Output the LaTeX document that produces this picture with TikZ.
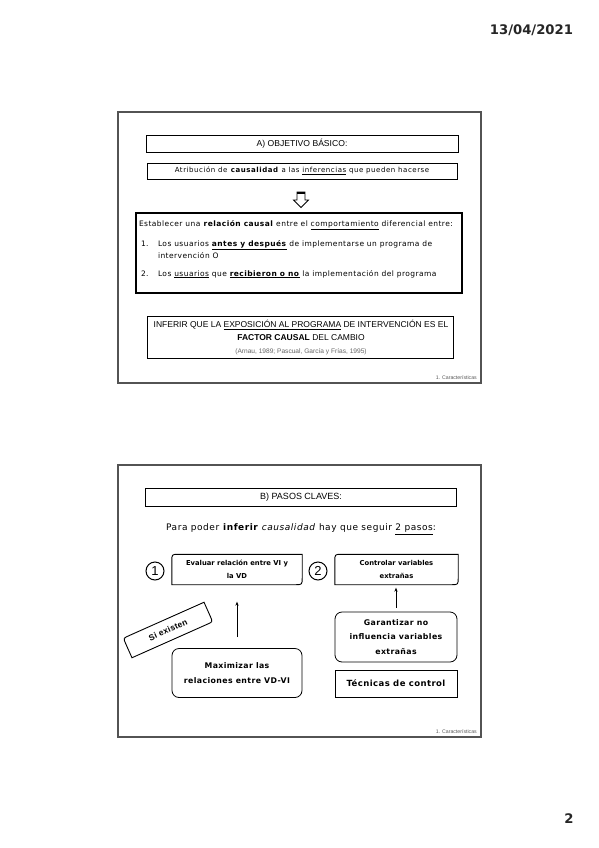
\documentclass[tikz,border=0pt]{standalone}
\usepackage{fontspec}
\setmainfont{Liberation Sans}
\newfontfamily\dvs{DejaVu Sans}
\newfontfamily\dvsA[LetterSpace=6]{DejaVu Sans}
\newfontfamily\dvsB[LetterSpace=8]{DejaVu Sans}
\newfontfamily\dvsC[LetterSpace=5]{DejaVu Sans}
\newfontfamily\libC[LetterSpace=3]{Liberation Sans}
\usetikzlibrary{calc,arrows.meta}
\newcommand\diagborder[2]{%
  \draw[line width=0.9pt] ($(#1.north west)!#2!(#1.north east)$) -- (#1.north east)
    -- ($(#1.south east)!#2!(#1.north east)$) .. controls (#1.south east) .. ($(#1.south east)!#2!(#1.south west)$)
    -- (#1.south west) -- ($(#1.north west)!#2!(#1.south west)$) .. controls (#1.north west) .. ($(#1.north west)!#2!(#1.north east)$) -- cycle;}
\begin{document}
\begin{tikzpicture}[x=1pt,y=-1pt,
  slideframe/.style={draw=gray!65!black, line width=1.4pt},
  tbox/.style={draw, line width=0.9pt, inner sep=0pt},
  plain/.style={inner sep=0pt, outer sep=0pt},
  rbox/.style={draw, line width=0.8pt, rounded corners=7pt, inner sep=0pt, align=center},
  dbox/.style={inner sep=0pt, align=center},
  arr/.style={-{Stealth[length=4pt,width=3.2pt]}, line width=1pt},
  foot/.style={inner sep=0pt, text=gray!70!black, font=\fontsize{5.2}{6}\selectfont},
  body/.style={font=\dvsA\fontsize{7.5}{9}\selectfont},
  num/.style={circle, draw, line width=1pt, minimum size=18pt, inner sep=0pt, font=\fontsize{13}{13}\selectfont}
]
\useasboundingbox (0,0) rectangle (599,848);
\fill[white] (0,0) rectangle (599,848);

% header / page number
\node[plain, anchor=base east, text=black!85] (date) at (573,35) {\dvs\bfseries\fontsize{13.2}{15}\selectfont 13/04/2021};
\node[plain, anchor=base, text=black!85] (page) at (569,823) {\dvs\bfseries\fontsize{13.2}{15}\selectfont 2};

% ---------------- Slide 1 ----------------
\node[slideframe, minimum width=363pt, minimum height=271pt, inner sep=0pt] (s1) at (299.5,247.5) {};
\node[tbox, minimum width=312pt, minimum height=17pt] (t1) at (302,144)
  {\fontsize{8.6}{10}\selectfont A) OBJETIVO BÁSICO:};
\node[tbox, minimum width=310pt, minimum height=16pt] (atr) at (302,171)
  {\dvsB\fontsize{7}{8}\selectfont Atribución de \textbf{causalidad} a las \underline{inferencias} que pueden hacerse};

% hollow down arrow
\coordinate (da) at (301,199);
\draw[line width=0.8pt, fill=white] (297,192) -- (305,192) -- (305,200) -- (308.5,200) -- (301,207.5) -- (293.5,200) -- (297,200) -- cycle;
\draw[line width=2pt] (297,192.5) -- (305,192.5);

\node[draw, line width=1.3pt, minimum width=326pt, minimum height=80pt, inner sep=0pt] (big) at (299,253) {};
\node[plain, body, anchor=base west] (l0) at (139,226)
  {Establecer una \textbf{relación causal} entre el \underline{comportamiento} diferencial entre:};
\node[plain, body, anchor=base west] (n1) at (141,246) {1.};
\node[plain, body, anchor=base west] (l1) at (158,246)
  {Los usuarios \underline{\textbf{antes y después}} de implementarse un programa de};
\node[plain, body, anchor=base west] (l1b) at (158,258) {intervención O};
\node[plain, body, anchor=base west] (n2) at (141,276) {2.};
\node[plain, body, anchor=base west] (l2) at (158,276)
  {Los \underline{usuarios} que \underline{\textbf{recibieron o no}} la implementación del programa};

\node[tbox, minimum width=306pt, minimum height=42pt] (inf) at (300,337) {};
\node[plain, anchor=base] (i1) at (301,327.5)
  {\fontsize{8.5}{10}\selectfont INFERIR QUE LA \underline{EXPOSICIÓN AL PROGRAMA} DE INTERVENCIÓN ES EL};
\node[plain, anchor=base] (i2) at (301,340.5)
  {\fontsize{8.5}{10}\selectfont \textbf{FACTOR CAUSAL} DEL CAMBIO};
\node[plain, anchor=base, text=gray!80!black] (i3) at (301,353.5)
  {\fontsize{6.6}{7}\selectfont (Arnau, 1989; Pascual, García y Frías, 1995)};
\node[foot, anchor=base east] (f1) at (477,379) {1. Características};

% ---------------- Slide 2 ----------------
\node[slideframe, minimum width=363pt, minimum height=272pt, inner sep=0pt] (s2) at (299.5,601) {};
\node[tbox, minimum width=311pt, minimum height=18pt] (t2) at (301,497)
  {\fontsize{9}{10}\selectfont B) PASOS CLAVES:};
\node[plain, anchor=base] (para) at (301,530.5)
  {\dvsA\fontsize{9}{10}\selectfont Para poder \textbf{inferir} \textit{causalidad} hay que seguir \underline{2 pasos}:};

\node[num] (c1) at (155,571) {1};
\node[num] (c2) at (318,571) {2};

\node[dbox, minimum width=130pt, minimum height=30pt, font=\dvs\bfseries\fontsize{6.8}{13.5}\selectfont] (b1) at (237,569.5)
  {Evaluar relación entre VI y\\ la VD};
\diagborder{b1}{7pt}
\node[dbox, minimum width=123pt, minimum height=30pt, font=\dvs\bfseries\fontsize{6.8}{13.5}\selectfont] (b2) at (396.5,569.5)
  {Controlar variables\\ extrañas};
\diagborder{b2}{7pt}

\node[dbox, rotate=24, minimum width=88pt, minimum height=21pt, font=\libC\bfseries\fontsize{8.4}{10}\selectfont] (si) at (168,630)
  {Si existen};
\diagborder{si}{6pt}

\node[rbox, minimum width=130pt, minimum height=49pt, font=\dvsC\bfseries\fontsize{7.8}{15}\selectfont] (maxi) at (237,673)
  {Maximizar las\\ relaciones entre VD-VI};
\node[rbox, minimum width=122pt, minimum height=50pt, font=\dvsC\bfseries\fontsize{7.8}{14.5}\selectfont] (gar) at (396,637)
  {Garantizar no\\ influencia variables\\ extrañas};
\node[draw, line width=0.9pt, minimum width=122pt, minimum height=27pt, inner sep=0pt, font=\dvsC\bfseries\fontsize{8.5}{9}\selectfont] (tec) at (396,683.5)
  {Técnicas de control};

\draw[arr, shorten <=11pt, shorten >=17pt] (maxi.north) -- (maxi.north |- b1.south);
\draw[arr, shorten <=4pt, shorten >=3pt] (gar.north) -- (gar.north |- b2.south);

\node[foot, anchor=base east] (f2) at (477,733) {1. Características};
\end{tikzpicture}
\end{document}
